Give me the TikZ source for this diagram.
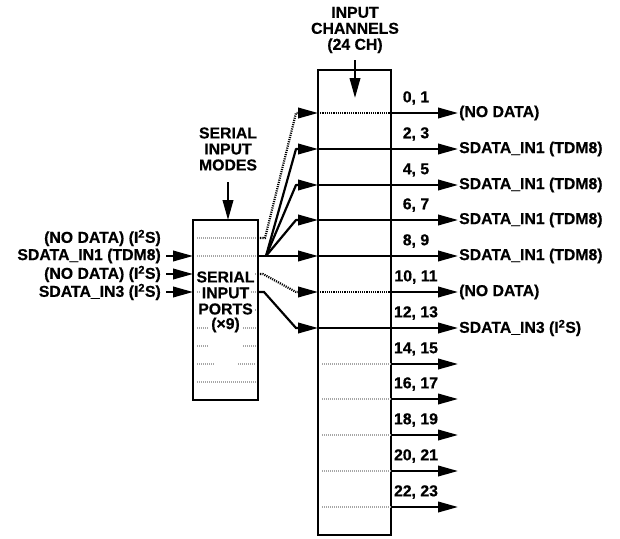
\documentclass[tikz,border=0pt]{standalone}
\usepackage{fontspec}
\setmainfont{Liberation Sans}[BoldFeatures={FakeBold=0.6}]
\usetikzlibrary{arrows.meta}
\begin{document}
\begin{tikzpicture}[x=1pt,y=-1pt,
  every node/.style={font=\fontsize{15.8}{16}\selectfont\bfseries, inner sep=0pt},
  box/.style={draw, line width=2.4pt, fill=white},
  conn/.style={line width=2.2pt},
  dotc/.style={line width=2.2pt, dash pattern=on 1.1pt off 1.1pt},
  gridl/.style={line width=1.1pt, black!35, dash pattern=on 1pt off 1pt},
  tip/.style={-{Triangle[length=20pt,width=10.5pt]}},
  lab/.style={align=center},
  ]
\useasboundingbox (0,0) rectangle (620,538);

% boxes
\node[box, minimum width=65pt, minimum height=180pt] (sip) at (225.5,310) {};
\node[box, minimum width=73pt, minimum height=465pt] (ich) at (354.5,302.5) {};

% grid lines of serial input ports
\foreach \y in {238,256,274,292,310,328,382}
  \draw[gridl] (197,\y) -- (256,\y);
\draw[gridl] (197,346) -- (209,346);
\draw[gridl] (243,346) -- (256,346);
\draw[gridl] (197,364) -- (215,364);
\draw[gridl] (238,364) -- (256,364);

% text in serial input ports
\node[fill=white, inner xsep=1pt, inner ysep=1pt] (sp1) at (225.5,277) {SERIAL};
\node[fill=white, inner xsep=1pt, inner ysep=1pt] (sp2) at (225.5,293) {INPUT};
\node[fill=white, inner xsep=1pt, inner ysep=1pt] (sp3) at (225.5,309) {PORTS};
\node[fill=white, inner xsep=2pt, inner ysep=1pt] (sp4) at (225.5,325) {(×9)};

% top labels
\node[lab] (icl) at (355,30) {INPUT\\CHANNELS\\(24 CH)};
\coordinate (icA) at (355,60);
\coordinate (icB) at (355,98);
\draw[conn,tip] (icA) -- (icB);

\node[lab] (siml) at (228,149) {SERIAL\\INPUT\\MODES};
\coordinate (smA) at (228,182);
\coordinate (smB) at (228,220);
\draw[conn,tip] (smA) -- (smB);

% left inputs
\node[anchor=east] (l1) at (161,238) {(NO DATA) (I\textsuperscript{2}S)};
\node[anchor=east] (l2) at (161,256) {SDATA\_IN1 (TDM8)};
\node[anchor=east] (l3) at (161,274) {(NO DATA) (I\textsuperscript{2}S)};
\node[anchor=east] (l4) at (161,292) {SDATA\_IN3 (I\textsuperscript{2}S)};
\foreach \i/\y in {2/256,3/274,4/292} {
  \coordinate (pin\i) at (193,\y);
  \coordinate (pst\i) at (166,\y);
  \draw[conn,tip] (pst\i) -- (pin\i);
}

% channel rows
\foreach \i/\y in {0/113,1/149,2/185,3/220,4/256,5/292,6/328,7/364,8/399,9/435,10/471,11/507} {
  \coordinate (c\i) at (318,\y);
  \coordinate (o\i) at (391,\y);
  \coordinate (e\i) at (458,\y);
}
\foreach \i/\t in {0/{0, 1},1/{2, 3},2/{4, 5},3/{6, 7},4/{8, 9},5/{10, 11},6/{12, 13},7/{14, 15},8/{16, 17},9/{18, 19},10/{20, 21},11/{22, 23}}
  \node (n\i) at ([xshift=25pt,yshift=15pt]o\i) {\t};

% channels inside big box
\draw[dotc] (c0) -- (o0);
\draw[dotc] (c5) -- (o5);
\foreach \i in {7,...,11} \draw[gridl] ([xshift=4pt]c\i) -- (o\i);

% outputs
\foreach \i in {0,5,7,8,9,10,11} \draw[conn,tip] (o\i) -- (e\i);
\foreach \i in {1,2,3,4,6} \draw[conn,tip] (c\i) -- (e\i);

\node[anchor=west] (t0) at ([xshift=1pt]e0) {(NO DATA)};
\node[anchor=west] (t1) at ([xshift=1pt]e1) {SDATA\_IN1 (TDM8)};
\node[anchor=west] (t2) at ([xshift=1pt]e2) {SDATA\_IN1 (TDM8)};
\node[anchor=west] (t3) at ([xshift=1pt]e3) {SDATA\_IN1 (TDM8)};
\node[anchor=west] (t4) at ([xshift=1pt]e4) {SDATA\_IN1 (TDM8)};
\node[anchor=west] (t5) at ([xshift=1pt]e5) {(NO DATA)};
\node[anchor=west] (t6) at ([xshift=1pt]e6) {SDATA\_IN3 (I\textsuperscript{2}S)};

% connectors from serial input ports to channels
\coordinate (s1) at (258,238);
\coordinate (s2) at (258,256);
\coordinate (s3) at (258,274);
\coordinate (s4) at (258,292);
\coordinate (f1) at (266,256);
\coordinate (k1) at (265,238);
\coordinate (k3) at (263,274);
\coordinate (k4) at (264,292);

\draw[dotc,tip] (s1) -- (k1) -- (296,113) -- (c0);
\draw[conn] (s2) -- (f1);
\draw[conn,tip,line join=round] (f1) -- (296,149) -- (c1);
\draw[conn,tip,line join=round] (f1) -- (296,185) -- (c2);
\draw[conn,tip,line join=round] (f1) -- (296,220) -- (c3);
\draw[conn,tip] (f1) -- (c4);
\draw[dotc,tip] (s3) -- (k3) -- (296,292) -- (c5);
\draw[conn,tip] (s4) -- (k4) -- (296,328) -- (c6);
\end{tikzpicture}
\end{document}
